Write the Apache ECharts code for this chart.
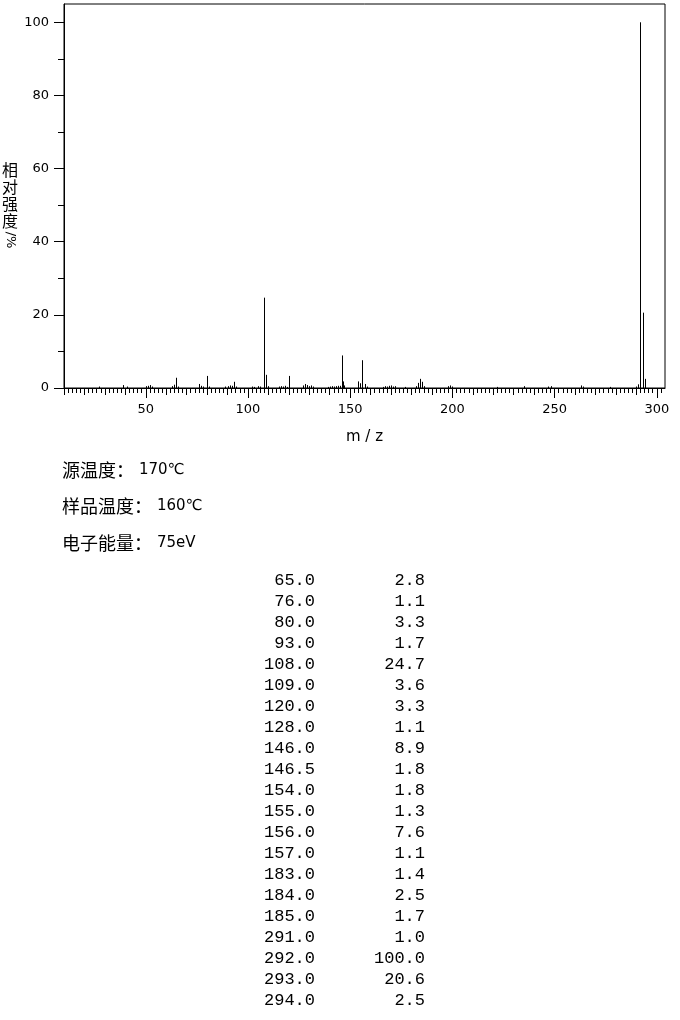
<!DOCTYPE html>
<html>
<head>
<meta charset="utf-8">
<script src="https://cdn.jsdelivr.net/npm/echarts@6/dist/echarts.min.js"></script>
<style>
  html, body { margin: 0; padding: 0; background: #fff; }
  #ms { width: 680px; height: 1020px; }
</style>
</head>
<body>
<div id="ms"></div>
<script>
// peaks listed in the table (m/z, relative intensity %)
var peakMz = [65, 76, 80, 93, 108, 109, 120, 128, 146, 146.5, 154, 155, 156, 157, 183, 184, 185, 291, 292, 293, 294];
var peakInt = [2.8, 1.1, 3.3, 1.7, 24.7, 3.6, 3.3, 1.1, 8.9, 1.8, 1.8, 1.3, 7.6, 1.1, 1.4, 2.5, 1.7, 1.0, 100.0, 20.6, 2.5];

// small peaks (< 1 %) read off the plot, not in the table
var minorMz = [27, 39, 41, 50, 51, 52, 53, 63, 64, 66, 77, 78, 81, 89, 90, 91, 92, 94, 102, 103,
  105, 106, 110, 115, 116, 117, 118, 119, 127, 129, 130, 131, 132, 139, 140, 141, 142, 143, 144, 145,
  147, 158, 166, 167, 168, 169, 170, 171, 172, 177, 182, 186, 198, 199, 200, 222, 235, 247, 248, 263,
  264, 277, 290];
var minorInt = [0.4, 0.8, 0.4, 0.5, 0.6, 0.8, 0.4, 0.5, 0.9, 0.4, 0.6, 0.4, 0.4, 0.4, 0.5, 0.7, 0.6, 0.4, 0.4, 0.3,
  0.5, 0.4, 0.5, 0.4, 0.5, 0.4, 0.6, 0.3, 0.7, 0.8, 0.5, 0.7, 0.4, 0.3, 0.4, 0.5, 0.4, 0.5, 0.6, 0.6,
  0.7, 0.4, 0.3, 0.5, 0.4, 0.6, 0.7, 0.4, 0.5, 0.3, 0.5, 0.5, 0.5, 0.7, 0.4, 0.3, 0.5, 0.4, 0.5, 0.7,
  0.4, 0.3, 0.4];

// tick labels
var xLabels = [50, 100, 150, 200, 250, 300];
var yLabels = [0, 20, 40, 60, 80, 100];
var yMinor = [10, 30, 50, 70, 90];

// instrument conditions
var infoNames = ['源温度：', '样品温度：', '电子能量：'];
var infoValues = ['170℃', '160℃', '75eV'];

var xMinor = [], xMid = [];
for (var v = 10; v <= 302; v += 2) {
  if (v % 10 === 0) xMid.push(v); else xMinor.push(v);
}

var data = [];
minorMz.forEach(function (m, i) { data.push([m, minorInt[i]]); });
peakMz.forEach(function (m, i) { data.push([m, peakInt[i]]); });

var black = '#000';
var lineStyle = { color: black, width: 1 };

function xAxisBase() {
  return {
    type: 'value', min: 10, max: 304, position: 'bottom', gridIndex: 0,
    axisLine: { show: false, onZero: false, lineStyle: lineStyle },
    axisLabel: { show: false },
    splitLine: { show: false }
  };
}

var xa0 = xAxisBase();
xa0.axisLine.show = true;
xa0.axisTick = { show: true, customValues: xMinor, length: 5, lineStyle: lineStyle };

var xa1 = xAxisBase();
xa1.axisTick = { show: true, customValues: xMid, length: 7, lineStyle: lineStyle };

var xa2 = xAxisBase();
xa2.axisTick = { show: true, customValues: xLabels, length: 10, lineStyle: lineStyle };
xa2.axisLabel = { show: true, customValues: xLabels, margin: 15, color: black, fontSize: 13, fontFamily: 'DejaVu Sans' };
xa2.name = 'm / z';
xa2.nameLocation = 'middle';
xa2.nameGap = 42;
xa2.nameTextStyle = { color: black, fontSize: 15, fontFamily: 'DejaVu Sans' };

var table = [];
peakMz.forEach(function (m, i) {
  var y = 580 + i * 21;
  var font = { fontFamily: 'Liberation Mono', fontSize: 17, fill: black, align: 'right', verticalAlign: 'middle' };
  table.push({ type: 'text', x: 315, y: y, style: Object.assign({ text: m.toFixed(1) }, font) });
  table.push({ type: 'text', x: 425, y: y, style: Object.assign({ text: peakInt[i].toFixed(1) }, font) });
});

var info = infoNames.map(function (n, i) {
  return {
    type: 'text', x: 62, y: 470 + i * 36.5,
    style: {
      text: '{c|' + n + '}{n|' + infoValues[i] + '}',
      verticalAlign: 'middle',
      rich: {
        c: { fontFamily: 'Noto Sans CJK SC', fontSize: 18, fill: black },
        n: { fontFamily: 'DejaVu Sans', fontSize: 15, fill: black, padding: [0, 0, 0, 5] }
      }
    }
  };
});

var myChart = echarts.init(document.getElementById('ms'));
var option = {
  backgroundColor: '#fff',
  animation: false,
  grid: {
    left: 64, right: 15, top: 4, bottom: 632,
    show: true, borderColor: black, borderWidth: 1, backgroundColor: 'transparent'
  },
  xAxis: [xa0, xa1, xa2],
  yAxis: [
    {
      type: 'value', min: 0, max: 105, position: 'left',
      axisLine: { show: true, onZero: false, lineStyle: lineStyle },
      axisTick: { show: true, customValues: yMinor, length: 6, lineStyle: lineStyle },
      axisLabel: { show: false },
      splitLine: { show: false }
    },
    {
      type: 'value', min: 0, max: 105, position: 'left',
      axisLine: { show: false, onZero: false },
      axisTick: { show: true, customValues: yLabels, length: 10, lineStyle: lineStyle },
      axisLabel: { show: true, customValues: yLabels, margin: 15, color: black, fontSize: 13, fontFamily: 'DejaVu Sans' },
      splitLine: { show: false }
    }
  ],
  series: [{
    type: 'custom',
    xAxisIndex: 0,
    yAxisIndex: 0,
    data: data,
    encode: { x: 0, y: 1 },
    renderItem: function (params, api) {
      var top = api.coord([api.value(0), api.value(1)]);
      var base = api.coord([api.value(0), 0]);
      var x = Math.round(top[0]) + 0.5;
      return {
        type: 'line',
        shape: { x1: x, y1: base[1], x2: x, y2: top[1] },
        style: { stroke: black, lineWidth: 1 }
      };
    }
  }],
  graphic: [
    {
      type: 'text', x: 10, y: 161,
      style: { text: '相\n对\n强\n度', fontFamily: 'Noto Sans CJK SC', fontSize: 16, lineHeight: 17, fill: black, align: 'center' }
    },
    {
      type: 'text', x: 10, y: 240, rotation: -Math.PI / 2,
      style: { text: '/%', fontFamily: 'DejaVu Sans', fontSize: 13, fill: black, align: 'center', verticalAlign: 'middle' }
    }
  ].concat(info).concat(table)
};
myChart.setOption(option);
</script>
</body>
</html>
